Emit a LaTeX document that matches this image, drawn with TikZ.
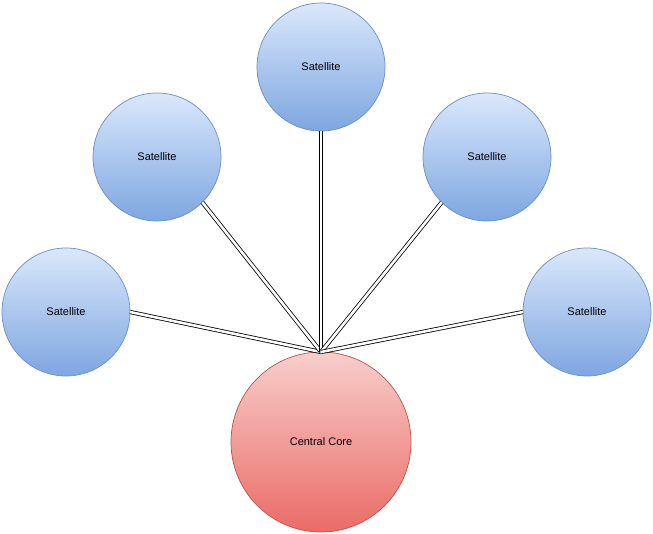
\documentclass[tikz,border=0pt]{standalone}
\usepackage{fontspec}
\setmainfont{Liberation Sans}
\usetikzlibrary{positioning}

\definecolor{satfill}{HTML}{DAE8FC}
\definecolor{satdark}{HTML}{7EA6E0}
\definecolor{satline}{HTML}{6C8EBF}
\definecolor{corefill}{HTML}{F8CECC}
\definecolor{coredark}{HTML}{EA6B66}
\definecolor{coreline}{HTML}{B85450}

\begin{document}
\begin{tikzpicture}[x=1pt,y=-1pt,
    satellite/.style={circle,draw=satline,line width=0.7pt,
      top color=satfill,bottom color=satdark,minimum size=128pt,
      inner sep=0pt,outer sep=0pt,font=\fontsize{11}{13}\selectfont},
    core/.style={circle,draw=coreline,line width=0.7pt,
      top color=corefill,bottom color=coredark,minimum size=180pt,
      inner sep=0pt,outer sep=0pt,font=\fontsize{11}{13}\selectfont},
    link/.style={double=white,draw=black,line width=0.8pt,
      double distance=2.6pt}]
  \useasboundingbox (0,0) rectangle (653,534);

  \node[core] (core) at (321,442) {Central Core};
  \node[satellite] (top) at (321,67) {Satellite};
  \node[satellite] (upleft) at (157,157) {Satellite};
  \node[satellite] (upright) at (487,157) {Satellite};
  \node[satellite] (lowleft) at (66,312) {Satellite};
  \node[satellite] (lowright) at (587,312) {Satellite};

  \draw[link] (lowleft.east) -- (core.north);
  \draw[link] (upleft.south east) -- (core.north);
  \draw[link] (top.south) -- (core.north);
  \draw[link] (upright.south west) -- (core.north);
  \draw[link] (lowright.west) -- (core.north);
\end{tikzpicture}
\end{document}
